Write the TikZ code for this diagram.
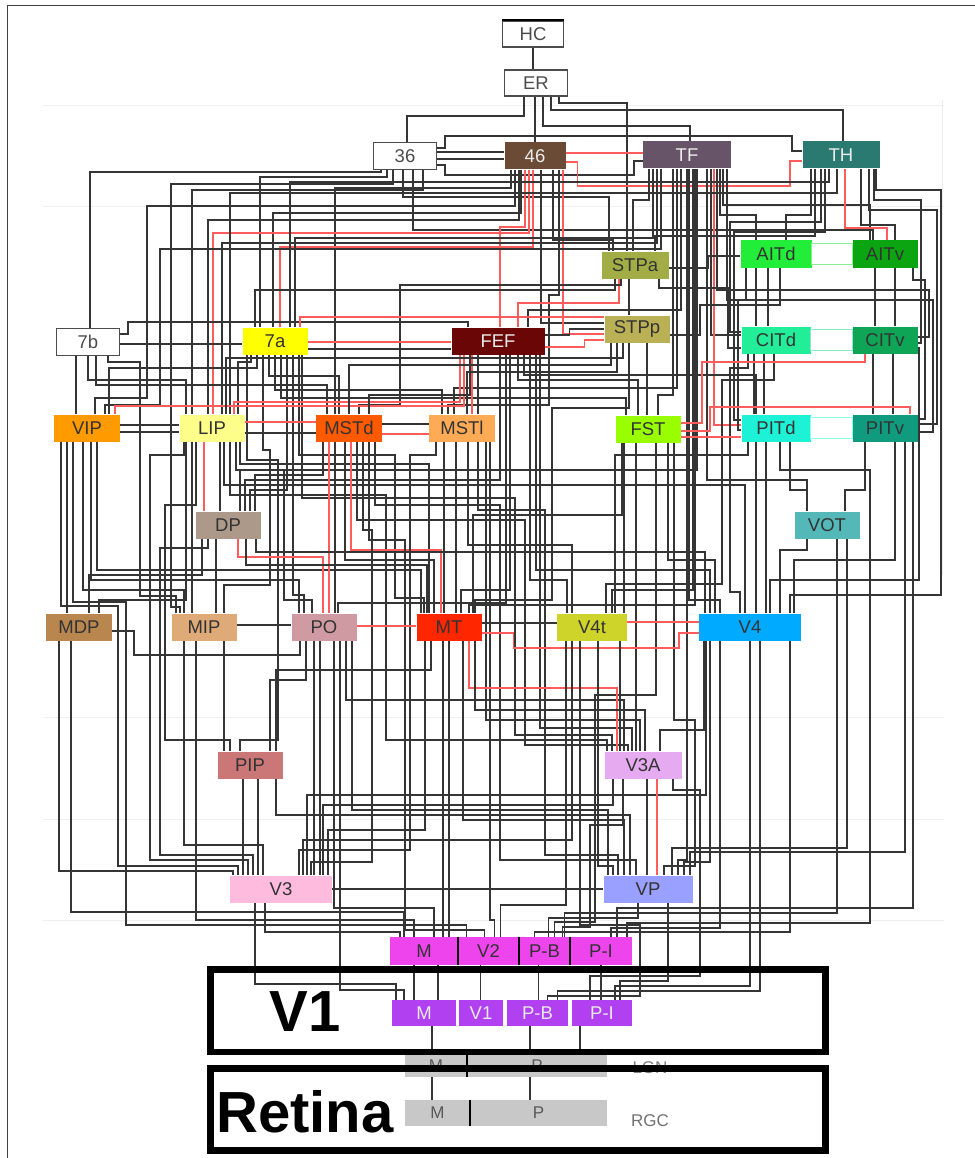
\documentclass[tikz,border=0pt]{standalone}
\usepackage{fontspec}
\setmainfont{Liberation Sans}
\usetikzlibrary{calc}
\pgfdeclarelayer{bg}
\pgfsetlayers{bg,main}

\definecolor{wirec}{HTML}{353535}
\definecolor{redw}{HTML}{FF5C5C}
\definecolor{c46}{HTML}{6B4B36}
\definecolor{cTF}{HTML}{675468}
\definecolor{cTH}{HTML}{2B7A72}
\definecolor{cSTPa}{HTML}{A3AD45}
\definecolor{cAITd}{HTML}{22EE3A}
\definecolor{cAITv}{HTML}{0BA512}
\definecolor{c7a}{HTML}{FFFF00}
\definecolor{cFEF}{HTML}{6A0606}
\definecolor{cSTPp}{HTML}{BAB056}
\definecolor{cCITd}{HTML}{22EE9A}
\definecolor{cCITv}{HTML}{0FA556}
\definecolor{cVIP}{HTML}{FF9A00}
\definecolor{cLIP}{HTML}{FDFD8A}
\definecolor{cMSTd}{HTML}{FF5A00}
\definecolor{cMSTl}{HTML}{FFAA55}
\definecolor{cFST}{HTML}{99FF00}
\definecolor{cPITd}{HTML}{1EF2D6}
\definecolor{cPITv}{HTML}{109A7E}
\definecolor{cDP}{HTML}{AD998A}
\definecolor{cVOT}{HTML}{55B8B8}
\definecolor{cMDP}{HTML}{B9864F}
\definecolor{cMIP}{HTML}{DEAA78}
\definecolor{cPO}{HTML}{D09AA2}
\definecolor{cMT}{HTML}{FF2600}
\definecolor{cV4t}{HTML}{CFD42A}
\definecolor{cV4}{HTML}{00AAFF}
\definecolor{cPIP}{HTML}{CC7777}
\definecolor{cV3A}{HTML}{E6AAF0}
\definecolor{cV3}{HTML}{FFBBDD}
\definecolor{cVP}{HTML}{9AA0FF}
\definecolor{cV2}{HTML}{EE44EE}
\definecolor{cV1}{HTML}{B040F0}
\definecolor{cgray}{HTML}{C8C8C8}
\definecolor{linkA}{HTML}{8CEE90}
\definecolor{linkC}{HTML}{8CEEC0}
\definecolor{linkP}{HTML}{8CFFEE}

\tikzset{
  wire/.style={draw=wirec, line width=1.5pt},
  rw/.style={draw=redw, line width=1.3pt},
  area/.style={rectangle, inner sep=0pt, minimum height=27pt,
    font=\fontsize{18.5}{18.5}\selectfont, text=black!80},
  plainbox/.style={area, draw=black!70, fill=white, line width=1.2pt, text=black!70},
  darktext/.style={text=white!92!black},
  grayrow/.style={rectangle, inner sep=0pt, fill=cgray,
    font=\fontsize{17}{17}\selectfont, text=black!65},
  thickbox/.style={draw=black, line width=6.5pt},
  sep/.style={draw=black, line width=2pt},
  linkbox/.style={fill=white, line width=1.5pt}
}

% down from a source bottom to level Y, across, down into the target top
\newcommand\dn[6][wire]{\draw[#1] let \p1=([xshift=#3]#2.south) in
  (\p1) -- (\x1,-#4pt) -| ([xshift=#6]#5.north);}
% same, with a vertical run along column BX between levels Y1 and Y2
\newcommand\bus[8][wire]{\draw[#1] let \p1=([xshift=#3]#2.south) in
  (\p1) -- (\x1,-#4pt) -- (#5pt,-#4pt) -- (#5pt,-#6pt) -| ([xshift=#8]#7.north);}

\begin{document}
\begin{tikzpicture}[x=1pt,y=1pt]
\useasboundingbox (0,0) rectangle (974,-1158);

% ---------------- areas ----------------
\node[plainbox, minimum width=61pt, minimum height=26pt] (HC) at (533,-34) {HC};
\node[plainbox, minimum width=63pt, minimum height=26pt] (ER) at (536,-83) {ER};
\node[plainbox, minimum width=63pt] (a36) at (405,-156) {36};
\node[area, fill=c46, darktext, minimum width=61pt] (a46) at (535,-156) {46};
\node[area, fill=cTF, darktext, minimum width=88pt] (TF) at (687,-155) {TF};
\node[area, fill=cTH, darktext, minimum width=77pt] (TH) at (841,-155) {TH};
\node[area, fill=cSTPa, minimum width=67pt] (STPa) at (635,-265) {STPa};
\node[area, fill=cAITd, minimum width=71pt] (AITd) at (776,-254) {AITd};
\node[area, fill=cAITv, minimum width=65pt] (AITv) at (885,-254) {AITv};
\node[plainbox, minimum width=63pt] (a7b) at (88,-342) {7b};
\node[area, fill=c7a, minimum width=65pt] (a7a) at (275,-341) {7a};
\node[area, fill=cFEF, darktext, minimum width=93pt] (FEF) at (498,-341) {FEF};
\node[area, fill=cSTPp, minimum width=65pt] (STPp) at (637,-329) {STPp};
\node[area, fill=cCITd, minimum width=69pt] (CITd) at (776,-340) {CITd};
\node[area, fill=cCITv, minimum width=65pt] (CITv) at (885,-340) {CITv};
\node[area, fill=cVIP, minimum width=66pt] (VIP) at (87,-428) {VIP};
\node[area, fill=cLIP, minimum width=65pt] (LIP) at (212,-428) {LIP};
\node[area, fill=cMSTd, minimum width=66pt] (MSTd) at (349,-428) {MSTd};
\node[area, fill=cMSTl, minimum width=66pt] (MSTl) at (462,-428) {MSTl};
\node[area, fill=cFST, minimum width=65pt] (FST) at (648,-429) {FST};
\node[area, fill=cPITd, minimum width=69pt] (PITd) at (776,-428) {PITd};
\node[area, fill=cPITv, minimum width=65pt] (PITv) at (885,-428) {PITv};
\node[area, fill=cDP, minimum width=65pt] (DP) at (228,-525) {DP};
\node[area, fill=cVOT, minimum width=65pt] (VOT) at (827,-525) {VOT};
\node[area, fill=cMDP, minimum width=66pt] (MDP) at (79,-627) {MDP};
\node[area, fill=cMIP, minimum width=65pt] (MIP) at (204,-627) {MIP};
\node[area, fill=cPO, minimum width=65pt] (PO) at (324,-627) {PO};
\node[area, fill=cMT, minimum width=65pt] (MT) at (449,-627) {MT};
\node[area, fill=cV4t, minimum width=70pt] (V4t) at (592,-627) {V4t};
\node[area, fill=cV4, minimum width=102pt] (V4) at (750,-627) {V4};
\node[area, fill=cPIP, minimum width=65pt] (PIP) at (250,-765) {PIP};
\node[area, fill=cV3A, minimum width=77pt] (V3A) at (643,-765) {V3A};
\node[area, fill=cV3, minimum width=102pt] (V3) at (281,-889) {V3};
\node[area, fill=cVP, minimum width=89pt] (VP) at (648,-889) {VP};
\node[area, fill=cV2, minimum width=68pt, minimum height=28pt] (M2) at (424,-951) {M};
\node[area, fill=cV2, minimum width=61pt, minimum height=28pt] (V2) at (488.5,-951) {V2};
\node[area, fill=cV2, minimum width=51pt, minimum height=28pt] (PB2) at (544.5,-951) {P-B};
\node[area, fill=cV2, minimum width=62pt, minimum height=28pt] (PI2) at (601,-951) {P-I};
\node[area, fill=cV1, darktext, minimum width=64pt, minimum height=26pt] (M1) at (424,-1013) {M};
\node[area, fill=cV1, darktext, minimum width=44pt, minimum height=26pt] (V1) at (481,-1013) {V1};
\node[area, fill=cV1, darktext, minimum width=61pt, minimum height=26pt] (PB1) at (537.5,-1013) {P-B};
\node[area, fill=cV1, darktext, minimum width=60pt, minimum height=26pt] (PI1) at (602,-1013) {P-I};
\node[grayrow, minimum width=62pt, minimum height=22pt] (LGNM) at (436,-1066) {M};
\node[grayrow, minimum width=140pt, minimum height=22pt] (LGNP) at (537,-1066) {P};
\node[grayrow, minimum width=65pt, minimum height=26pt] (RGCM) at (437.5,-1113) {M};
\node[grayrow, minimum width=137pt, minimum height=26pt] (RGCP) at (538.5,-1113) {P};
\node[font=\fontsize{17}{17}\selectfont, text=black!50] (lgnlab) at (650,-1068) {LGN};
\node[font=\fontsize{17}{17}\selectfont, text=black!55] (rgclab) at (650,-1121) {RGC};

% heavy top edge of HC
\draw[black, line width=2.2pt] (HC.north west) -- (HC.north east);
% paired inferotemporal areas
\draw[linkbox, draw=linkA] ([yshift=-3]AITd.north east) rectangle ([yshift=3]AITv.south west);
\draw[linkbox, draw=linkC] ([yshift=-3]CITd.north east) rectangle ([yshift=3]CITv.south west);
\draw[linkbox, draw=linkP] ([yshift=-3]PITd.north east) rectangle ([yshift=3]PITv.south west);
% compartment dividers
\draw[sep] (M2.north east) -- (M2.south east);
\draw[sep] (V2.north east) -- (V2.south east);
\draw[sep] (PB2.north east) -- (PB2.south east);
\draw[sep] (LGNM.north east) -- (LGNM.south east);
\draw[sep] (RGCM.north east) -- (RGCM.south east);

% V1 and retina frames
\draw[thickbox] (210.5,-969.5) rectangle (825.5,-1052);
\draw[thickbox] (210.5,-1068.5) rectangle (825.5,-1150.5);
\node[font=\bfseries\fontsize{58}{58}\selectfont] (v1lab) at (305,-1012) {V1};
\node[font=\bfseries\fontsize{58}{58}\selectfont] (retlab) at (305,-1112) {Retina};

% outer frame
\draw[black!75, line width=1.2pt] (7.5,-1170) -- (7.5,-5.5) -- (990,-5.5);

\begin{pgfonlayer}{bg}
\fill[white] (0,0) rectangle (974,-1158);
% faint ruling of the page
\foreach \yy in {106,207,717,819,920}
  \draw[black!6, line width=1pt] (43,-\yy) -- (944,-\yy);
\draw[black!7, line width=1pt] (942,-100) -- (942,-575);

% ---------------- top of the hierarchy ----------------
\draw[wire] (HC.south) -- (HC.south |- ER.north);
\dn{ER}{-12}{116}{a36}{2}
\dn{ER}{-1}{125}{a46}{0}
\dn{ER}{7}{126}{TF}{3}
\dn{ER}{15}{110}{TH}{2}
\dn{ER}{23}{103}{STPa}{-8}

\draw[wire] ([yshift=4]a36.east) -- ([yshift=4]a46.west);
\draw[wire] ([yshift=-3]a36.east) -- ([yshift=-3]a46.west);
\draw[wire] ([yshift=8]a36.east) -- ++(8,0) |- (792,-136) |- ([yshift=4]TH.west);
\draw[wire] ([yshift=-9]a36.east) -- ++(8,0) |- (634,-175) |- ([yshift=-6]TF.west);
\draw[rw] ([yshift=3]a46.east) -- ([yshift=2]TF.west);
\draw[rw] ([yshift=-6]a46.east) -- ++(12,0) |- (790,-186) |- ([yshift=-6]TH.west);

% 36
\dn{a36}{-24}{172}{a7b}{2}
\dn{a36}{-18}{177}{a7a}{-15}
\bus{a36}{-12}{184}{171}{607}{MIP}{-24}
\dn{a36}{-2}{197}{STPa}{-26}
\dn{a36}{8}{230}{AITv}{-12}
\dn{a36}{18}{190}{LIP}{-20}

% 46
\dn{a46}{-24}{188}{MSTd}{-14}
\bus{a46}{-20}{206}{147}{398}{VIP}{8}
\dn{a46}{-16}{220}{LIP}{-4}
\dn{a46}{-14}{213}{a7a}{-2}
\dn[rw]{a46}{-10}{227}{FEF}{2}
\dn[rw]{a46}{-6}{233}{LIP}{1}
\dn[rw]{a46}{-2}{247}{a7a}{5}
\draw[wire] ([xshift=6]a46.south) |- ([yshift=6]STPp.west);
\draw[rw] ([xshift=28]a46.south) |- ([yshift=-5]STPp.west);
\dn{a46}{18}{240}{STPa}{-22}
\bus{a46}{24}{295}{549}{405}{MSTl}{-14}

% TF
\dn{TF}{-38}{200}{STPa}{-2}
\dn{TF}{-34}{238}{a7a}{20}
\dn{TF}{-30}{243}{LIP}{10}
\bus{TF}{-26}{249}{160}{405}{VIP}{18}
\dn{TF}{-14}{395}{FST}{10}
\dn{TF}{-10}{388}{MSTl}{-8}
\dn{TF}{-6}{310}{FEF}{30}
\dn{TF}{0}{860}{VP}{30}
\dn{TF}{2}{600}{V4}{-30}
\dn{TF}{6}{590}{V4t}{20}
\dn{TF}{8}{605}{MT}{20}
\dn{TF}{10}{470}{DP}{12}
\dn{TF}{20}{480}{VOT}{-20}
\draw[wire] ([xshift=24]TF.south) |- ([yshift=5]CITd.west);
\draw[rw] ([xshift=27]TF.south) |- ([yshift=3]PITd.west);
\draw[wire] ([xshift=30]TF.south) |- (929,-290) |- ([yshift=3]CITv.east);
\dn{TF}{33}{215}{AITd}{-20}
\dn{TF}{36}{205}{AITv}{-15}
\draw[wire] ([xshift=40]TF.south) |- (933,-300) |- ([yshift=-4]PITv.east);

% TH
\dn{TH}{-30}{215}{AITd}{10}
\dn{TH}{-26}{236}{STPa}{20}
\draw[wire] ([xshift=-20]TH.south) |- (730,-222) |- ([yshift=8]CITd.west);
\draw[wire] ([xshift=-16]TH.south) |- (734,-232) |- ([yshift=8]PITd.west);
\dn{TH}{-12}{182}{a7a}{15}
\dn{TH}{-4}{193}{LIP}{18}
\dn[rw]{TH}{4}{228}{AITv}{2}
\dn{TH}{20}{225}{AITv}{10}
\draw[wire] ([xshift=28]TH.south) |- (937,-210) |- ([yshift=4]PITv.east);
\draw[wire] ([xshift=33]TH.south) |- (921,-200) |- ([yshift=-3]CITv.east);
\bus{TH}{35}{190}{941}{595}{V4}{40}

% STPa, AIT
\draw[wire] ([yshift=-3]STPa.east) -- ++(40,0) |- ([yshift=-2]AITd.west);
\draw[wire] ([xshift=-6]STPa.south) -- ([xshift=-8]STPp.north);
\dn[rw]{STPa}{-16}{303}{FEF}{20}
\dn{STPa}{-20}{290}{a7a}{-20}
\bus{STPa}{-14}{285}{400}{405}{MSTd}{10}
\draw[wire] ([xshift=24]STPa.south) |- (728,-288) |- ([yshift=-8]CITd.west);
\draw[wire] ([xshift=-20]AITd.south) -- ([xshift=-20]CITd.north);
\draw[wire] ([xshift=-8]AITd.south) -- ([xshift=-8]CITd.north);
\draw[wire] ([xshift=-30]AITd.south) |- (738,-300) |- ([yshift=-2]PITd.west);
\draw[wire] ([xshift=4]AITd.south) |- (700,-305) |- ([yshift=-6]STPp.east);
\draw[wire] ([xshift=-10]AITv.south) -- ([xshift=-10]CITv.north);
\draw[wire] ([xshift=10]AITv.south) -- ([xshift=10]CITv.north);
\draw[wire] ([xshift=28]AITv.south) |- (925,-280) |- ([yshift=9]PITv.east);

% 7b
\draw[wire] ([yshift=-2]a7b.east) -- ([yshift=-3]a7a.west);
\draw[wire] ([yshift=8]a7b.east) -- ++(8,0) |- (468,-322) -- ([xshift=-30]FEF.north);
\draw[wire] ([xshift=-12]a7b.south) -- ([xshift=-11]VIP.north);
\dn{a7b}{0}{380}{LIP}{-26}
\dn{a7b}{8}{385}{MSTd}{-22}
\bus{a7b}{20}{362}{140}{596}{MIP}{-28}

% 7a
\draw[rw] ([yshift=-1]a7a.east) -- ([yshift=-1]FEF.west);
\draw[wire] ([yshift=-8]a7a.east) -- ([yshift=-8]FEF.west);
\bus{a7a}{-28}{460}{278}{740}{PIP}{-10}
\dn{a7a}{-24}{362}{LIP}{26}
\dn{a7a}{-18}{368}{VIP}{22}
\bus{a7a}{-12}{450}{270}{585}{MIP}{20}
\dn{a7a}{-6}{376}{MSTd}{-10}
\dn{a7a}{0}{390}{MSTl}{-20}
\dn{a7a}{6}{398}{FST}{-22}
\dn{a7a}{12}{490}{DP}{22}
\dn{a7a}{18}{595}{PO}{-20}
\bus{a7a}{24}{455}{395}{598}{MT}{-25}
\bus{a7a}{27}{498}{515}{735}{V3A}{-31}

% FEF
\draw[wire] ([yshift=6]FEF.east) -- ++(25,0) |- ([yshift=0]STPp.west);
\draw[rw] ([yshift=-6]FEF.east) -- ++(40,0) |- ([yshift=-11]STPp.west);
\draw[rw] ([yshift=12]STPp.west) -| ([xshift=25]a7a.north);
\dn[rw]{FEF}{-38}{402}{LIP}{22}
\dn[rw]{FEF}{-34}{406}{VIP}{28}
\dn{FEF}{-28}{395}{MSTd}{20}
\draw[rw] ([xshift=-26]FEF.south) -- ([xshift=10]MSTl.north);
\draw[wire] ([xshift=-20]FEF.south) -- ([xshift=16]MSTl.north);
\dn{FEF}{2}{480}{DP}{17}
\dn{FEF}{8}{603}{PO}{14}
\dn{FEF}{12}{590}{MT}{12}
\dn{FEF}{20}{380}{FST}{-10}
\dn{FEF}{26}{375}{PITd}{-20}
\dn{FEF}{32}{580}{V4t}{-25}
\dn{FEF}{38}{570}{V4}{-40}
\dn{FEF}{42}{728}{V3A}{-11}

% STPp
\dn{STPp}{-26}{365}{MSTd}{0}
\dn{STPp}{-20}{372}{MSTl}{5}
\dn{STPp}{-14}{358}{LIP}{14}
\bus{STPp}{-8}{408}{552}{600}{MT}{26}
\draw[wire] ([xshift=10]STPp.south) -- ([xshift=-1]FST.north);

% CIT
\draw[wire] ([xshift=-22]CITd.south) -- ([xshift=-22]PITd.north);
\draw[wire] ([xshift=-12]CITd.south) -- ([xshift=-12]PITd.north);
\bus{CITd}{-28}{368}{730}{592}{V4}{-10}
\bus{CITd}{-2}{380}{722}{584}{V4t}{14}
\draw[wire] ([xshift=-12]CITv.south) -- ([xshift=-12]PITv.north);
\draw[wire] ([xshift=8]CITv.south) -- ([xshift=8]PITv.north);
\draw[wire] ([yshift=-8]CITv.east) -| (919,-580) -| ([xshift=20]V4.north);
\draw[rw] ([xshift=-20]CITv.south) |- (702,-362) |- ([yshift=6]FST.east);

% PIT
\draw[wire] ([xshift=-20]PITd.south) -- ([xshift=6]V4.north);
\draw[wire] ([xshift=-10]PITd.south) -- ([xshift=16]V4.north);
\dn{PITd}{-28}{455}{V4t}{23}
\dn{PITd}{14}{490}{VOT}{-20}
\bus{PITd}{4}{470}{870}{923}{PI2}{26}
\dn{PITv}{-20}{490}{VOT}{18}
\dn{PITv}{10}{560}{V4}{44}
\dn{PITv}{20}{852}{VP}{42}
\dn{PITv}{28}{908}{PI2}{16}
\draw[rw] ([xshift=25]PITv.north) |- (710,-407) |- ([yshift=-2]FST.east);
\draw[rw] ([yshift=-8]FST.east) -- ([yshift=-9]PITd.west);

% VIP
\draw[wire] ([yshift=3]VIP.east) -- ([yshift=3]LIP.west);
\draw[wire] ([yshift=-4]VIP.east) -- ([yshift=-4]LIP.west);
\draw[wire] ([xshift=-20]VIP.south) -- ([xshift=-12]MDP.north);
\dn{VIP}{-4}{590}{MIP}{-20}
\dn{VIP}{4}{580}{PO}{-25}
\dn{VIP}{10}{570}{MT}{-28}
\bus{VIP}{-26}{606}{118}{866}{V3}{-43}
\bus{VIP}{-14}{602}{126}{925}{V2}{-22}

% LIP
\draw[wire] ([yshift=-5]LIP.east) -- ([yshift=-5]MSTd.west);
\draw[rw] ([yshift=6]LIP.east) -- ([yshift=6]MSTd.west);
\draw[wire] ([xshift=8]LIP.south) -- ([xshift=-8]DP.north);
\draw[rw] ([xshift=-8]LIP.south) -- ([xshift=-24]DP.north);
\draw[wire] ([xshift=-20]LIP.south) -- ([xshift=-12]MIP.north);
\dn{LIP}{-26}{600}{MDP}{20}
\bus{LIP}{24}{470}{284}{600}{PO}{-12}
\dn{LIP}{28}{464}{MT}{-20}
\bus{LIP}{18}{495}{386}{740}{V3A}{-36}
\bus{LIP}{-16}{505}{165}{740}{PIP}{-20}
\bus{LIP}{-28}{455}{150}{860}{V3}{-33}
\dn{LIP}{12}{485}{V4}{-5}

% MSTd
\draw[wire] ([yshift=4]MSTd.east) -- ([yshift=4]MSTl.west);
\draw[rw] ([yshift=-6]MSTd.east) -- ([yshift=-6]MSTl.west);
\dn{MSTd}{-26}{475}{DP}{27}
\draw[wire] ([xshift=-14]MSTd.south) -- ([xshift=11]PO.north);
\draw[rw] ([xshift=-20]MSTd.south) -- ([xshift=5]PO.north);
\dn{MSTd}{-4}{560}{MT}{-15}
\dn[rw]{MSTd}{2}{550}{MT}{-8}
\bus{MSTd}{8}{520}{525}{745}{V3A}{-15}
\bus{MSTd}{14}{530}{372}{862}{V3}{30}
\bus{MSTd}{20}{540}{405}{930}{V2}{-4}
\bus{MSTd}{26}{505}{500}{860}{VP}{-12}

% MSTl
\draw[wire] ([xshift=-18]MSTl.south) -- ([xshift=-5]MT.north);
\draw[wire] ([xshift=-6]MSTl.south) -- ([xshift=7]MT.north);
\dn{MSTl}{6}{545}{V4t}{-20}
\dn{MSTl}{24}{720}{V3A}{-3}
\dn{MSTl}{28}{920}{V2}{6}
\bus{MSTl}{-26}{455}{410}{850}{V3}{18}
\bus{MSTl}{16}{510}{545}{855}{VP}{-30}

% FST
\dn{FST}{-26}{515}{MT}{24}
\draw[wire] ([xshift=-24]FST.south) -- ([xshift=32]V4t.north);
\draw[wire] ([xshift=-12]FST.south) -- ([xshift=-7]V3A.north);
\dn{FST}{20}{560}{V4}{-35}
\bus{FST}{26}{720}{695}{866}{VP}{16}
\bus{FST}{8}{695}{595}{922}{PB2}{10}

% DP, VOT
\dn[rw]{DP}{10}{557}{PO}{-1}
\dn{DP}{-26}{575}{MDP}{10}
\draw[wire] ([xshift=-12]DP.south) -- ([xshift=12]MIP.north);
\dn{DP}{18}{565}{MT}{-22}
\dn{DP}{28}{552}{V4}{-45}
\bus{DP}{-20}{548}{160}{855}{V3}{-28}
\dn{VOT}{-20}{550}{V4}{30}
\dn{VOT}{10}{913}{PB2}{20}
\dn{VOT}{20}{848}{VP}{24}

% MDP, MIP, PO
\draw[wire] ([yshift=-4]MDP.east) -- ++(22,0) |- (300,-655) -- ([xshift=-24]PO.south);
\dn{MDP}{-20}{871}{V3}{-48}
\dn{MDP}{-8}{912}{M2}{-20}
\draw[wire] ([yshift=2]MIP.east) -- ([yshift=2]PO.west);
\draw[wire] ([xshift=20]MIP.south) -- ([xshift=-26]PIP.north);
\dn{MIP}{-20}{845}{V3}{-18}
\dn{MIP}{-8}{920}{M2}{-10}
\draw[rw] ([yshift=1]PO.east) -- ([yshift=1]MT.west);
\draw[wire] ([xshift=-10]PO.south) -- ([xshift=33]V3.north);
\draw[wire] ([xshift=-4]PO.south) -- ([xshift=39]V3.north);
\dn{PO}{-18}{680}{PIP}{20}
\dn{PO}{10}{908}{M2}{10}
\dn{PO}{16}{990}{M1}{-20}
\dn{PO}{22}{700}{V3A}{-19}
\dn{PO}{28}{810}{VP}{-40}

% MT, V4t, V4
\draw[wire] ([yshift=4]MT.east) -- ([yshift=4]V4t.west);
\draw[rw] ([yshift=-6]MT.east) -- ++(32,0) |- (679,-648) |- ([yshift=-6]V4.west);
\draw[rw] ([yshift=5]V4t.east) -- ([yshift=5]V4.west);
\dn[rw]{MT}{20}{688}{V3A}{-26}
\dn{MT}{-24}{830}{V3}{47}
\draw[wire] ([xshift=-6]MT.south) -- ([xshift=19]M2.north);
\draw[wire] ([xshift=0]MT.south) -- ([xshift=25]M2.north);
\dn{MT}{-18}{670}{PIP}{26}
\dn{MT}{14}{820}{VP}{-24}
\dn{MT}{26}{710}{V3A}{2}
\dn{V4t}{-26}{905}{V2}{12}
\dn{V4t}{-20}{840}{V3}{22}
\dn{V4t}{6}{866}{VP}{-35}
\draw[wire] ([xshift=28]V4t.south) -- ([xshift=-23]V3A.north);
\bus{V4t}{-12}{925}{640}{996}{PB1}{10}
\dn{V4}{-30}{928}{PI2}{10}
\dn{V4}{-40}{862}{VP}{36}
\dn{V4}{-44}{795}{V3}{26}
\dn{V4}{-46}{730}{V3A}{17}
\dn{V4}{0}{986}{PI1}{13}
\dn{V4}{10}{991}{PB1}{20}
\dn{V4}{40}{932}{PB2}{-10}

% PIP, V3A, V3, VP
\draw[wire] ([xshift=-7]PIP.south) -- ([xshift=-38]V3.north);
\draw[wire] ([xshift=8]PIP.south) -- ([xshift=-23]V3.north);
\dn{PIP}{26}{815}{VP}{-18}
\draw[rw] ([xshift=14]V3A.south) -- ([xshift=9]VP.north);
\draw[wire] ([xshift=4]V3A.south) -- ([xshift=-1]VP.north);
\dn{V3A}{-30}{805}{V3}{42}
\bus{V3A}{-20}{825}{590}{927}{PB2}{18}
\bus{V3A}{30}{790}{700}{976}{PI1}{-12}
\draw[wire] (V3.east) -- (VP.west);
\dn{V3}{-16}{932}{M2}{-24}
\dn{V3}{-26}{984}{M1}{-28}
\dn{VP}{-10}{918}{PB2}{4}
\dn{VP}{20}{981}{PI1}{18}

% V2 to V1, V1 to LGN, LGN to retina
\draw[wire] ([xshift=-10]M2.south) -- ([xshift=-10]M1.north);
\draw[wire] ([xshift=14]M2.south) -- ([xshift=14]M1.north);
\draw[wire] ([xshift=-8]V2.south) -- ([xshift=-0.5]V1.north);
\draw[wire] ([xshift=-6]PB2.south) -- ([xshift=1]PB1.north);
\draw[wire] (PI2.south) -- ([xshift=-1]PI1.north);
\draw[wire] ([xshift=8]M1.south) -- ([xshift=-4]LGNM.north);
\draw[wire] ([xshift=-7.5]PB1.south) -- ([xshift=-7]LGNP.north);
\draw[wire] ([xshift=-22]PI1.south) -- ([xshift=43]LGNP.north);
\draw[wire] ([xshift=-4]LGNM.south) -- ([xshift=-5.5]RGCM.north);
\draw[wire] ([xshift=-7]LGNP.south) -- ([xshift=-8.5]RGCP.north);
\end{pgfonlayer}
\end{tikzpicture}
\end{document}
